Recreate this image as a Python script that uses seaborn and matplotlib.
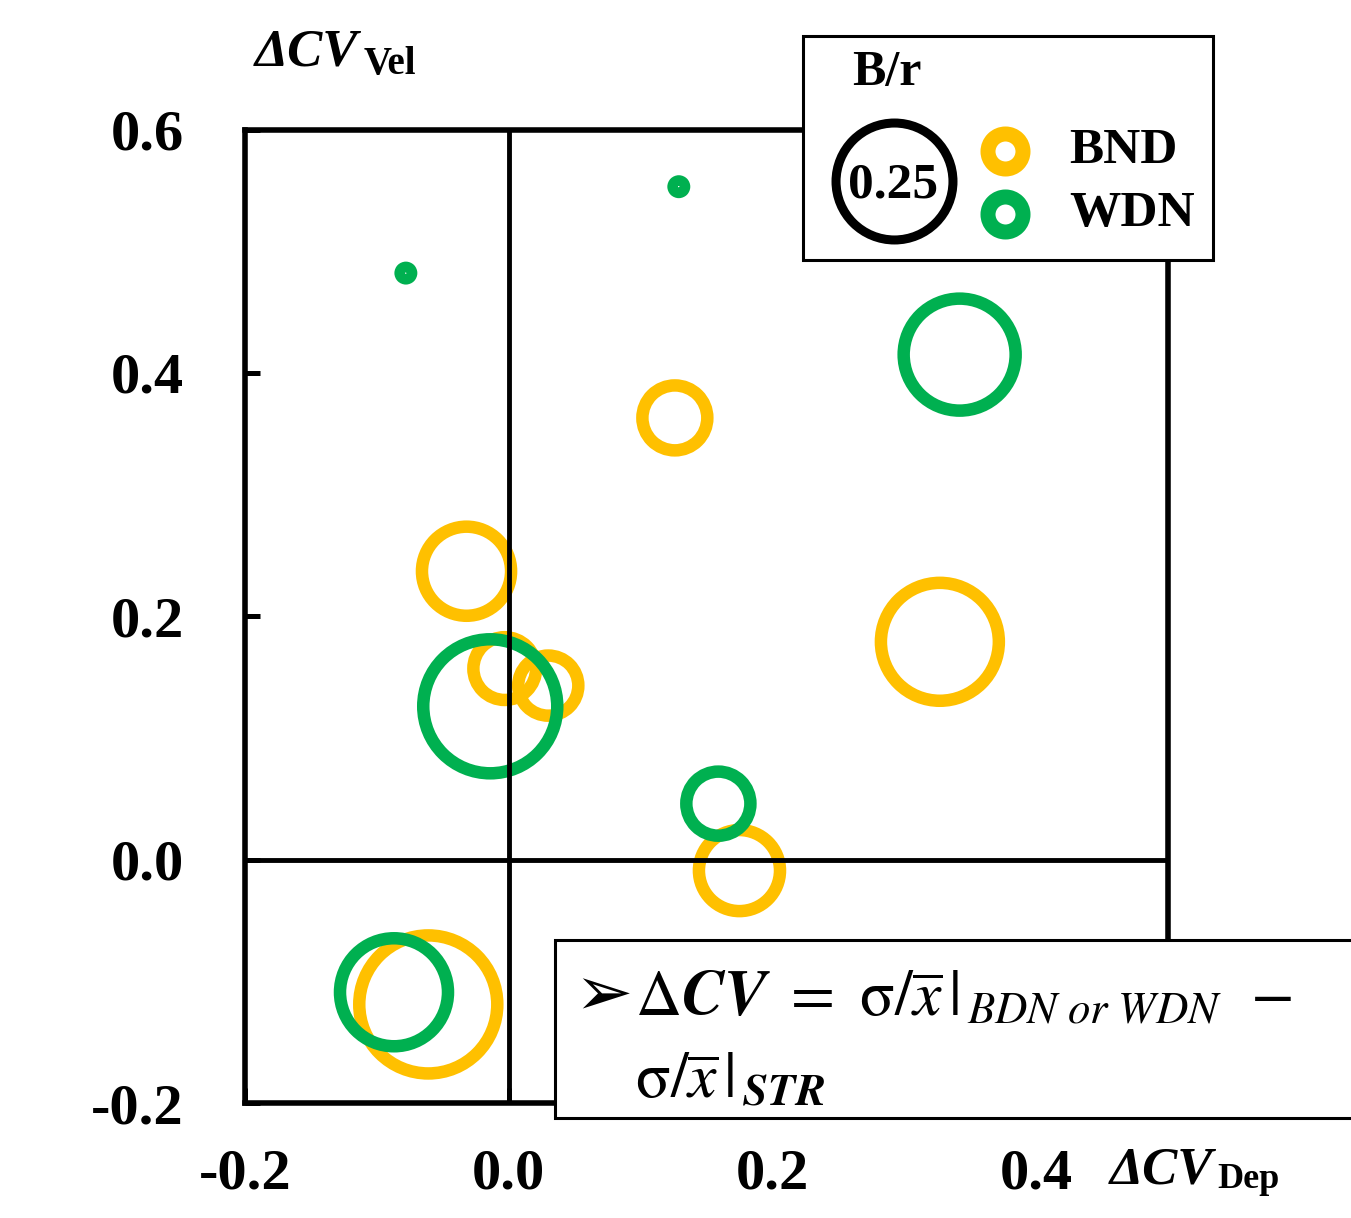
import pandas as pd
import matplotlib.pyplot as plt
import seaborn as sns
from matplotlib.patches import Rectangle
from matplotlib.lines import Line2D

# values
groups = ['BND'] * 7 + ['WDN'] * 6
dcv_dep = [0.126, -0.032, -0.003, 0.030, 0.327, 0.175, -0.061,
           -0.078, 0.129, 0.342, -0.014, 0.159, -0.087]
dcv_vel = [0.363, 0.237, 0.157, 0.143, 0.179, -0.009, -0.119,
           0.482, 0.553, 0.415, 0.126, 0.046, -0.109]
b_over_r = [0.077, 0.145, 0.072, 0.066, 0.254, 0.120, 0.348,
            0.002, 0.002, 0.229, 0.328, 0.075, 0.213]
colors = {'BND': '#FFC000', 'WDN': '#00B050'}
xticks = [-0.2, 0.0, 0.2, 0.4]
xtick_labels = ['-0.2', '0.0', '0.2', '0.4']
yticks = [-0.2, 0.0, 0.2, 0.4, 0.6]
ytick_labels = ['-0.2', '0.0', '0.2', '0.4', '0.6']
legend_br = '0.25'

W, H = 1351, 1218


def fx(px):
    return px / W


def fy(py):
    return 1 - py / H


sns.set_style('white')
plt.rcParams['font.family'] = ['Liberation Serif', 'DejaVu Serif']
plt.rcParams['text.color'] = 'black'

fig = plt.figure(figsize=(W / 100, H / 100), dpi=100)
ax = fig.add_axes([fx(245), fy(1103), fx(1168) - fx(245), fy(129.5) - fy(1103)])

df = pd.DataFrame({'group': groups, 'dep': dcv_dep, 'vel': dcv_vel, 'br': b_over_r})

# marker area proportional to B/r (0.25 -> ring of ~84 pt)
s_full = 4 * (2 * 58.5 * 0.72) ** 2
sns.scatterplot(data=df, x='dep', y='vel', hue='group', palette=colors,
                size='br', sizes=(0, s_full), size_norm=(0, 1),
                linewidth=9, legend=False, ax=ax, zorder=2)
pts = ax.collections[0]
pts.set_edgecolors(pts.get_facecolors())
pts.set_facecolors('none')

ax.set_xlim(-0.2, 0.5)
ax.set_ylim(-0.2, 0.6)
ax.set_xticks(xticks, labels=xtick_labels, fontweight='bold')
ax.set_yticks(yticks, labels=ytick_labels, fontweight='bold')
ax.set_xlabel('')
ax.set_ylabel('')
ax.tick_params(direction='in', length=11, width=3.6, labelsize=42,
               bottom=True, left=True, color='black', labelcolor='black')
ax.tick_params(axis='x', pad=33)
ax.tick_params(axis='y', pad=44)
for sp in ax.spines.values():
    sp.set_visible(True)
    sp.set_linewidth(4)
    sp.set_color('black')
ax.axhline(0, color='black', lw=3.5, zorder=3)
ax.axvline(0, color='black', lw=3.5, zorder=3)

# axis titles
bold = dict(fontweight='bold')
t1 = fig.text(fx(255), fy(66), 'ΔCV', fontsize=38, style='italic', va='baseline', **bold)
ax.annotate('Vel', xy=(1, 0), xycoords=t1, xytext=(4, -4), textcoords='offset points',
            fontsize=28, va='bottom', ha='left', annotation_clip=False, **bold)
t2 = fig.text(fx(1110), fy(1184), 'ΔCV', fontsize=38, style='italic', va='baseline', **bold)
ax.annotate('Dep', xy=(1, 0), xycoords=t2, xytext=(3, -1), textcoords='offset points',
            fontsize=26, va='bottom', ha='left', annotation_clip=False, **bold)

# size / colour legend
fig.add_artist(Rectangle((fx(803), fy(260)), fx(1213) - fx(803), fy(36) - fy(260),
                         transform=fig.transFigure, facecolor='white', edgecolor='black',
                         lw=2.2, zorder=5))
fig.text(fx(852), fy(85), 'B/r', fontsize=36, va='baseline', zorder=6, **bold)
fig.add_artist(Line2D([fx(894)], [fy(181)], marker='o', markersize=84.2, mfc='none',
                      mec='black', mew=6.5, transform=fig.transFigure, zorder=6))
fig.text(fx(893), fy(197), legend_br, fontsize=37, ha='center', va='baseline', zorder=6, **bold)
for name, py in zip(colors, [151, 214]):
    fig.add_artist(Line2D([fx(1005)], [fy(py)], marker='o', markersize=25.2, mfc='none',
                          mec=colors[name], mew=10.8, transform=fig.transFigure, zorder=6))
    fig.text(fx(1069), fy(py + 12), name, fontsize=37, va='baseline', zorder=6, **bold)

# formula box
fig.add_artist(Rectangle((fx(555), fy(1118)), 0.7, fy(940) - fy(1118),
                         transform=fig.transFigure, facecolor='white', edgecolor='black',
                         lw=2.2, zorder=5))
fig.text(fx(574), fy(996), '➢', family=['DejaVu Sans'], fontsize=50,
         va='center', zorder=6)
line1 = (r'$\Delta\mathbfit{CV}\ =\ \mathrm{σ}/\overline{x}\,|_{\,\mathit{BDN}\ \mathit{or}'
         r'\ \mathit{WDN}}\ \ \mathrm{-}$')
line2 = r'$\mathrm{σ}/\overline{x}\,|_{\,\mathbfit{STR}}$'
fig.text(fx(635), fy(1015), line1, fontsize=46, math_fontfamily='stix',
         va='baseline', zorder=6)
fig.text(fx(635), fy(1098), line2, fontsize=46, math_fontfamily='stix',
         va='baseline', zorder=6)

fig.savefig('out.png', dpi=100)
